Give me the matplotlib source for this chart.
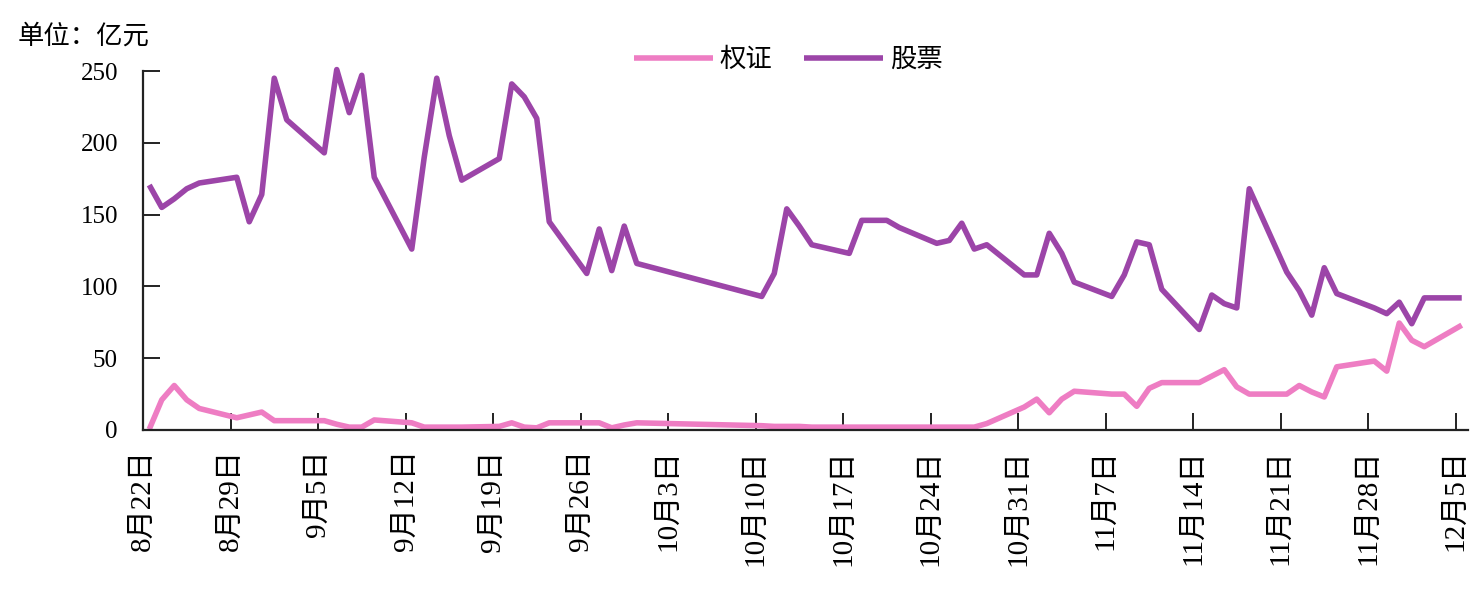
import matplotlib
matplotlib.use("Agg")
import matplotlib.pyplot as plt
import matplotlib.dates as mdates
import numpy as np
import datetime as dt

# ---------------- data ----------------
dates = [
    "2005-08-22", "2005-08-23", "2005-08-24", "2005-08-25", "2005-08-26",
    "2005-08-29", "2005-08-30", "2005-08-31",
    "2005-09-01", "2005-09-02", "2005-09-05", "2005-09-06", "2005-09-07",
    "2005-09-08", "2005-09-09", "2005-09-12", "2005-09-13", "2005-09-14",
    "2005-09-15", "2005-09-16", "2005-09-19", "2005-09-20", "2005-09-21",
    "2005-09-22", "2005-09-23", "2005-09-26", "2005-09-27", "2005-09-28",
    "2005-09-29", "2005-09-30",
    "2005-10-10", "2005-10-11", "2005-10-12", "2005-10-13", "2005-10-14",
    "2005-10-17", "2005-10-18", "2005-10-19", "2005-10-20", "2005-10-21",
    "2005-10-24", "2005-10-25", "2005-10-26", "2005-10-27", "2005-10-28",
    "2005-10-31",
    "2005-11-01", "2005-11-02", "2005-11-03", "2005-11-04", "2005-11-07",
    "2005-11-08", "2005-11-09", "2005-11-10", "2005-11-11", "2005-11-14",
    "2005-11-15", "2005-11-16", "2005-11-17", "2005-11-18", "2005-11-21",
    "2005-11-22", "2005-11-23", "2005-11-24", "2005-11-25", "2005-11-28",
    "2005-11-29", "2005-11-30",
    "2005-12-01", "2005-12-02", "2005-12-05",
]

warrant = [
    0.5, 21, 31, 21, 15, 8.5, 10.5, 12.5,
    6.5, 6.5, 6.5, 4, 2, 2, 7, 5, 2, 2, 2, 2, 2.5, 5, 2, 1.5, 5, 5, 5, 1.5, 3.5, 5,
    3, 2.5, 2.5, 2.5, 2, 2, 2, 2, 2, 2, 2, 2, 2, 2, 4.5, 16,
    21.5, 12, 21.5, 27, 25, 25, 16.5, 29, 33, 33, 37.5, 42, 30, 25, 25, 31, 26.5,
    23, 44, 48, 41, 74.5,
    62.5, 58, 73,
]

stock = [
    170.6, 155, 161, 168, 172, 176, 145, 164,
    245, 216, 193, 251, 221, 247, 176, 126, 190, 245, 205, 174, 189, 241, 232,
    217, 145, 109, 140, 111, 142, 116,
    93, 109, 154, 142, 129, 123, 146, 146, 146, 141, 130, 132, 144, 126, 129, 108,
    108, 137, 123, 103, 93, 108, 131, 129, 98, 70, 94, 88, 85, 168, 110, 97, 80,
    113, 95, 85, 81, 89,
    74, 92, 92,
]

series_names = ["权证", "股票"]
y_ticks = [0, 50, 100, 150, 200, 250]
unit_label = "单位：亿元"

# ---------------- style ----------------
FONT = ["Liberation Serif", "Noto Sans CJK SC", "DejaVu Sans"]
plt.rcParams["font.family"] = FONT
plt.rcParams["axes.unicode_minus"] = False

pink = "#EE7DC3"
purple = "#9C45A8"

fig = plt.figure(figsize=(14.82, 5.92), dpi=100)
ax = fig.add_axes([143 / 1482, 1 - 430 / 592, (1468 - 143) / 1482, (430 - 71) / 592])

d = [dt.datetime.strptime(s, "%Y-%m-%d") for s in dates]
x = mdates.date2num(d) + 0.5  # points centred in their day slot

l1, = ax.plot(x, warrant, color=pink, lw=4.0, solid_joinstyle="round",
              solid_capstyle="butt", label=series_names[0], clip_on=False)
l2, = ax.plot(x, stock, color=purple, lw=4.0, solid_joinstyle="round",
              solid_capstyle="butt", label=series_names[1], clip_on=False)

x0 = mdates.date2num(dt.datetime(2005, 8, 22))
x1 = mdates.date2num(dt.datetime(2005, 12, 6))
ax.set_xlim(x0, x1)
ax.set_ylim(0, 250)

tick_days = [dt.datetime(2005, 8, 22) + dt.timedelta(days=7 * i) for i in range(16)]
ax.set_xticks(mdates.date2num(tick_days))
ax.set_xticklabels([f"{t.month}月{t.day}日" for t in tick_days], rotation=90,
                   fontsize=21, family=FONT)
ax.set_yticks(y_ticks)
ax.set_yticklabels([str(v) for v in y_ticks], fontsize=18, family=FONT)

for s in ["top", "right"]:
    ax.spines[s].set_visible(False)
for s in ["left", "bottom"]:
    ax.spines[s].set_linewidth(1.6)
    ax.spines[s].set_color("#222222")

ax.tick_params(axis="x", direction="in", length=12, width=1.4, pad=14, colors="#222222",
               labelcolor="black")
ax.tick_params(axis="y", direction="in", length=12, width=1.4, pad=18, colors="#222222",
               labelcolor="black")

fig.legend(handles=[l1, l2], loc="center", bbox_to_anchor=(788 / 1482, 1 - 60 / 592),
           ncol=2, frameon=False, handlelength=3.0, handletextpad=0.25,
           columnspacing=1.2, prop={"family": FONT, "size": 19})

fig.text(18 / 1482, 1 - 36 / 592, unit_label, fontsize=19, family=FONT,
         ha="left", va="center")

fig.savefig("out.png", dpi=100)
